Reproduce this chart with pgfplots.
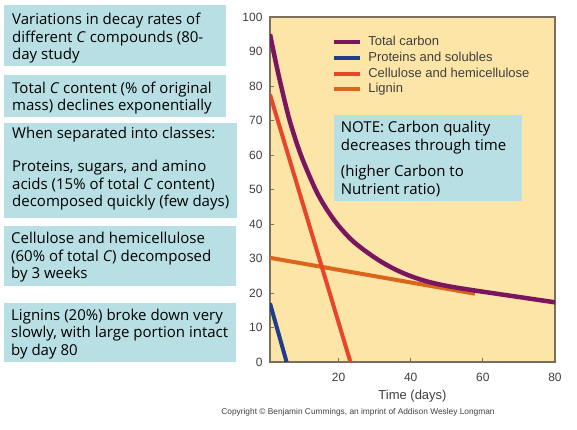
\documentclass[border=0pt]{standalone}
\usepackage{fontspec}
\setmainfont{Open Sans}
\newfontfamily\arialf{Liberation Sans}
\usepackage{pgfplots}
\pgfplotsset{compat=1.18}
\definecolor{bgbeige}{HTML}{FCE5A6}
\definecolor{boxblue}{HTML}{B8DFE3}
\definecolor{cpurple}{HTML}{7A1660}
\definecolor{cblue}{HTML}{1E3E8C}
\definecolor{cred}{HTML}{E6472B}
\definecolor{corange}{HTML}{D9661C}
\definecolor{framec}{HTML}{7A6E5C}
\definecolor{ticklab}{HTML}{3F3F3F}
\newcommand{\bx}{\fontsize{15}{17}\selectfont}
\begin{document}
\begin{tikzpicture}[x=1pt,y=1pt]
\path[use as bounding box, fill=white] (0,0) rectangle (577,429);
% text boxes
\fill[boxblue] (4,363) rectangle (226,424);
\fill[boxblue] (4,312) rectangle (226,354);
\fill[boxblue] (4,211) rectangle (237,306);
\fill[boxblue] (4,143) rectangle (236,203);
\fill[boxblue] (4,67) rectangle (236,126);
\begin{scope}[every node/.style={anchor=base west, inner sep=0pt, font=\bx}]
\node at (12,404) {Variations in decay rates of};
\node at (12,386.7) {different \textit{C} compounds (80-};
\node at (12,369.7) {day study};
\node at (12,335) {Total \textit{C} content (\% of original};
\node at (12,318) {mass) declines exponentially};
\node at (12,290.7) {When separated into classes:};
\node at (12,257.3) {Proteins, sugars, and amino};
\node at (12,240) {acids (15\% of total \textit{C} content)};
\node at (12,222.3) {decomposed quickly (few days)};
\node at (11,185.7) {Cellulose and hemicellulose};
\node at (11,168) {(60\% of total \textit{C}) decomposed};
\node at (11,150.7) {by 3 weeks};
\node at (11,109) {Lignins (20\%) broke down very};
\node at (11,91.7) {slowly, with large portion intact};
\node at (11,74) {by day 80};
\end{scope}
\begin{axis}[
  at={(270pt,67pt)}, anchor=south west,
  scale only axis, width=285pt, height=345pt,
  xmin=1, xmax=80, ymin=0, ymax=100,
  axis background/.style={fill=bgbeige},
  axis line style={framec, line width=1.3pt},
  xtick={20,40,60,80}, ytick={0,10,...,100},
  tick align=inside, tick pos=left,
  major tick length=4pt,
  tick style={framec, line width=1pt},
  /pgf/number format/assume math mode=true,
  ticklabel style={font=\arialf\fontsize{12}{12}\selectfont, text=ticklab},
  yticklabel style={xshift=-4pt},
  xticklabel style={yshift=-8pt},
  xlabel={Time (days)},
  xlabel style={font=\arialf\fontsize{13}{13}\selectfont, text=ticklab, yshift=-1pt},
  legend image code/.code={\draw[#1] (0pt,0pt) -- (26pt,0pt);},
  legend cell align=left,
  legend style={draw=none, fill=none, at={(rel axis cs:0.218,0.948)}, anchor=north west,
    inner sep=0pt, row sep=1.7pt, column sep=5pt,
    font=\arialf\fontsize{13}{13}\selectfont, text=ticklab,
    nodes={inner sep=1pt, text height=9.5pt, text depth=2.5pt}},
]
\addplot[corange, line width=4pt, forget plot] coordinates {(1,30.2) (57.8,19.8)};
\addplot[cred, line width=4pt, forget plot] coordinates {(1,77.5) (23.3,0)};
\addplot[cblue, line width=4pt, forget plot] coordinates {(1,17) (5.6,0)};
\addplot[cpurple, line width=4.5pt, smooth, forget plot] coordinates {
(1,95) (2.5,87.4) (4.1,79.9) (6.5,69.8) (9.7,59.6) (13.8,49.6) (17,43.8) (20,39.5)
(23.5,35.5) (27,32.5) (31,29.6) (35,27.2) (39,25.3) (44,23.5) (50,22.05) (57.3,20.8)
(66.6,19.36) (80,17.3)};
\addlegendimage{cpurple, line width=4pt}
\addlegendentry{Total carbon}
\addlegendimage{cblue, line width=4pt}
\addlegendentry{Proteins and solubles}
\addlegendimage{cred, line width=4pt}
\addlegendentry{Cellulose and hemicellulose}
\addlegendimage{corange, line width=4pt}
\addlegendentry{Lignin}
\end{axis}
\fill[boxblue] (334,228) rectangle (522,314);
\begin{scope}[every node/.style={anchor=base west, inner sep=0pt, font=\bx}]
\node at (340.7,296.3) {NOTE: Carbon quality};
\node at (340.7,279) {decreases through time};
\node at (340.7,252.3) {(higher Carbon to};
\node at (340.7,235) {Nutrient ratio)};
\end{scope}
\node[font=\arialf\fontsize{8.35}{9}\selectfont, text=ticklab, inner sep=0pt] at (358,16.5) {Copyright \textcopyright{} Benjamin Cummings, an imprint of Addison Wesley Longman};
\end{tikzpicture}
\end{document}
